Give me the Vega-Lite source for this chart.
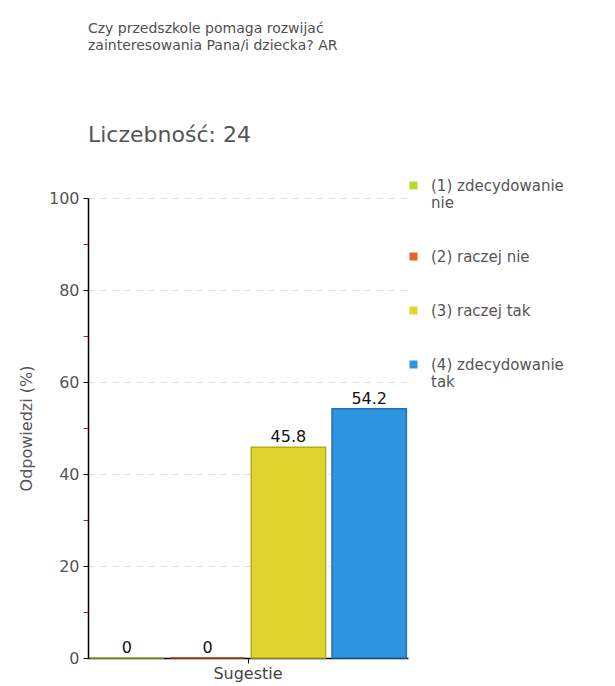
{
  "$schema": "https://vega.github.io/schema/vega-lite/v6.json",
  "width": 320,
  "height": 460,
  "autosize": {"type": "none"},
  "padding": {"left": 88, "top": 198, "right": 207, "bottom": 28},
  "background": "white",
  "title": {
    "text": ["Czy przedszkole pomaga rozwijać", "zainteresowania Pana/i dziecka? AR"],
    "subtitle": "Liczebność: 24",
    "anchor": "start",
    "frame": "group",
    "font": "DejaVu Sans",
    "fontSize": 14,
    "fontWeight": "normal",
    "color": "#505050",
    "lineHeight": 17,
    "subtitleFont": "DejaVu Sans",
    "subtitleFontSize": 22,
    "subtitleColor": "#555555",
    "subtitlePadding": 72,
    "offset": 32
  },
  "config": {
    "view": {"stroke": null},
    "font": "DejaVu Sans"
  },
  "data": {
    "values": [
      {"grupa": "Sugestie", "odp": "(1) zdecydowanie nie", "wartosc": 0},
      {"grupa": "Sugestie", "odp": "(2) raczej nie", "wartosc": 0},
      {"grupa": "Sugestie", "odp": "(3) raczej tak", "wartosc": 45.8},
      {"grupa": "Sugestie", "odp": "(4) zdecydowanie tak", "wartosc": 54.2}
    ]
  },
  "encoding": {
    "x": {
      "field": "grupa",
      "type": "nominal",
      "scale": {"paddingInner": 0, "paddingOuter": 0},
      "axis": {
        "title": null,
        "labelAngle": 0,
        "labelFontSize": 16,
        "labelColor": "#444444",
        "labelPadding": 2,
        "domainColor": "#000000",
        "domainWidth": 1.5,
        "tickColor": "#000000",
        "tickSize": 5
      }
    },
    "xOffset": {
      "field": "odp",
      "type": "nominal",
      "scale": {"paddingInner": 0.08, "paddingOuter": 0.02}
    },
    "y": {
      "field": "wartosc",
      "type": "quantitative",
      "scale": {"domain": [0, 100], "nice": false},
      "axis": {
        "title": "Odpowiedzi (%)",
        "titleFontSize": 16,
        "titleFontWeight": "normal",
        "titleColor": "#555555",
        "titlePadding": 14,
        "values": [0, 10, 20, 30, 40, 50, 60, 70, 80, 90, 100],
        "labelExpr": "datum.value % 20 === 0 ? datum.label : ''",
        "labelFontSize": 16,
        "labelColor": "#555555",
        "labelPadding": 4,
        "domainColor": "#000000",
        "domainWidth": 1.5,
        "tickSize": 5,
        "tickColor": {"condition": {"test": "datum.value % 20 !== 0", "value": "#ff0000"}, "value": "#000000"},
        "grid": true,
        "gridDash": [6, 6],
        "gridColor": "#dddddd",
        "gridOpacity": {"condition": {"test": "datum.value % 20 !== 0 || datum.value === 0", "value": 0}, "value": 1}
      }
    }
  },
  "layer": [
    {
      "mark": {"type": "bar", "strokeWidth": 1.5},
      "encoding": {
        "color": {
          "field": "odp",
          "type": "nominal",
          "scale": {
            "domain": ["(1) zdecydowanie nie", "(2) raczej nie", "(3) raczej tak", "(4) zdecydowanie tak"],
            "range": ["#b4dc2c", "#e2622c", "#dfd52e", "#2f95e0"]
          },
          "legend": {
            "title": null,
            "orient": "none",
            "legendX": 318,
            "legendY": -20,
            "symbolType": "square",
            "symbolSize": 64,
            "symbolStrokeWidth": 0,
            "labelFontSize": 15,
            "labelLineHeight": 18,
            "labelColor": "#555555",
            "labelOffset": 10,
            "labelLimit": 300,
            "rowPadding": 38,
            "labelExpr": "datum.label === '(1) zdecydowanie nie' ? ['(1) zdecydowanie', 'nie'] : datum.label === '(4) zdecydowanie tak' ? ['(4) zdecydowanie', 'tak'] : datum.label"
          }
        },
        "stroke": {
          "field": "odp",
          "type": "nominal",
          "scale": {
            "domain": ["(1) zdecydowanie nie", "(2) raczej nie", "(3) raczej tak", "(4) zdecydowanie tak"],
            "range": ["#8fb31a", "#b8431a", "#b5ab1c", "#1f70b8"]
          },
          "legend": null
        }
      }
    },
    {
      "mark": {"type": "text", "dy": -10, "fontSize": 16, "color": "#111111"},
      "encoding": {
        "text": {"field": "wartosc", "type": "quantitative"}
      }
    }
  ]
}
